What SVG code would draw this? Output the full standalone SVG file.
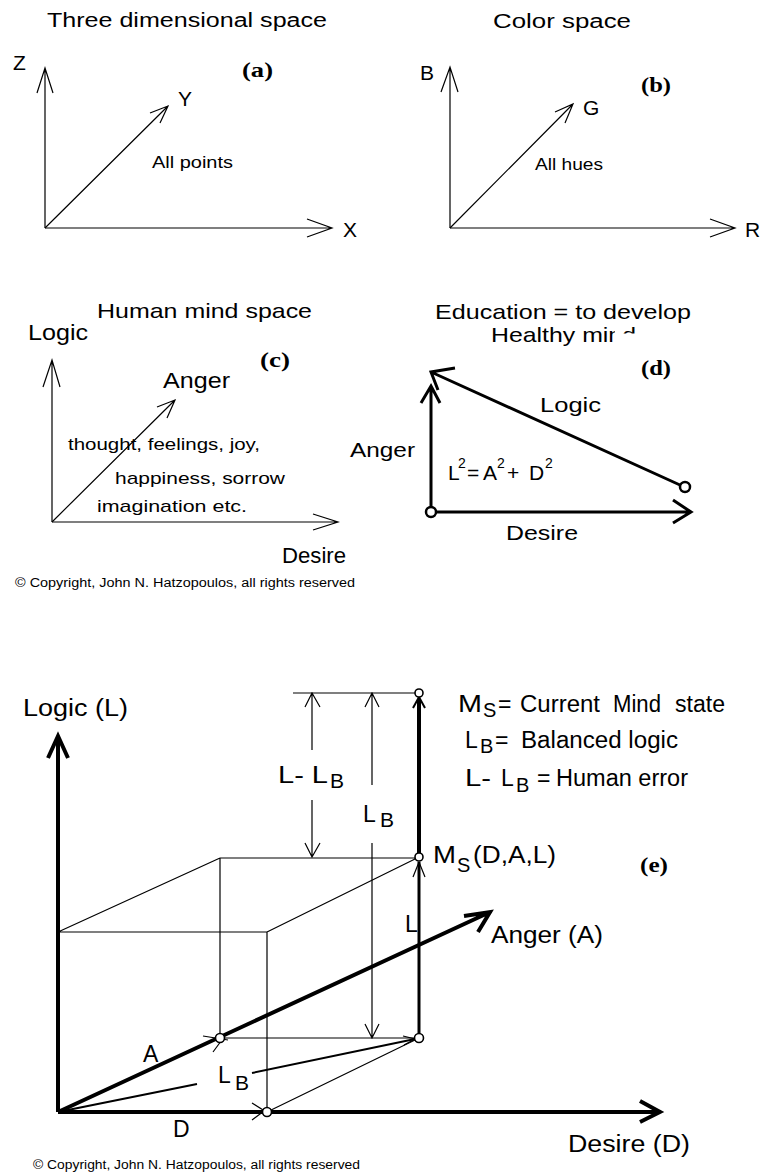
<svg xmlns="http://www.w3.org/2000/svg" width="766" height="1173" viewBox="0 0 766 1173">
<style>
.t{font-family:"Liberation Sans",Arial,sans-serif;fill:#000}
.b{font-family:"Liberation Serif","Times New Roman",serif;font-weight:bold;fill:#000;font-size:21px}
.thin{stroke:#000;stroke-width:1.2;fill:none}
.med{stroke:#000;stroke-width:2;fill:none}
.thick{stroke:#000;stroke-width:3;fill:none}
.heavy{stroke:#000;stroke-width:4;fill:none}
.dot{stroke:#000;stroke-width:1.6;fill:#fff}
</style>
<rect width="766" height="1173" fill="#fff"/>

<g id="panel-a">
  <g id="a-connectors">
    <path class="thin" d="M45,228 V68 M37,93 L45,68 L53,93"/>
    <path class="thin" d="M45,228 H332 M307,219 L332,228 L307,237"/>
    <path class="thin" d="M45,228 L168,106 M150,113 L168,106 L160,123"/>
  </g>
  <text class="t" x="47" y="27" font-size="20" textLength="280" lengthAdjust="spacingAndGlyphs">Three dimensional space</text>
  <text class="t" x="13" y="70" font-size="21">Z</text>
  <text class="b" x="242" y="77" textLength="31" lengthAdjust="spacingAndGlyphs">(a)</text>
  <text class="t" x="178" y="106" font-size="21">Y</text>
  <text class="t" x="152" y="168" font-size="16" textLength="81" lengthAdjust="spacingAndGlyphs">All points</text>
  <text class="t" x="343" y="237" font-size="21">X</text>
</g>

<g id="panel-b">
  <g id="b-connectors">
    <path class="thin" d="M450,228 V67 M441,92 L450,67 L458,92"/>
    <path class="thin" d="M450,228 H735 M710,219 L735,228 L710,237"/>
    <path class="thin" d="M450,228 L573,104 M555,112 L573,104 L565,123"/>
  </g>
  <text class="t" x="493" y="28" font-size="20" textLength="138" lengthAdjust="spacingAndGlyphs">Color space</text>
  <text class="t" x="420" y="80" font-size="21">B</text>
  <text class="b" x="641" y="92" textLength="30" lengthAdjust="spacingAndGlyphs">(b)</text>
  <text class="t" x="583" y="115" font-size="21">G</text>
  <text class="t" x="535" y="170" font-size="16" textLength="68" lengthAdjust="spacingAndGlyphs">All hues</text>
  <text class="t" x="745" y="237" font-size="21">R</text>
</g>

<g id="panel-c">
  <g id="c-connectors">
    <path class="thin" d="M52,522 V360 M43,387 L52,360 L60,387"/>
    <path class="thin" d="M52,522 H338 M313,514 L338,522 L313,530"/>
    <path class="thin" d="M52,522 L175,400 M157,407 L175,400 L167,418"/>
  </g>
  <text class="t" x="97" y="318" font-size="21" textLength="215" lengthAdjust="spacingAndGlyphs">Human mind space</text>
  <text class="t" x="28" y="340" font-size="22" textLength="60" lengthAdjust="spacingAndGlyphs">Logic</text>
  <text class="b" x="260" y="367" textLength="30" lengthAdjust="spacingAndGlyphs">(c)</text>
  <text class="t" x="163" y="388" font-size="22" textLength="67" lengthAdjust="spacingAndGlyphs">Anger</text>
  <text class="t" x="68" y="450" font-size="17" textLength="192" lengthAdjust="spacingAndGlyphs">thought, feelings, joy,</text>
  <text class="t" x="115" y="484" font-size="17" textLength="170" lengthAdjust="spacingAndGlyphs">happiness, sorrow</text>
  <text class="t" x="97" y="512" font-size="17" textLength="150" lengthAdjust="spacingAndGlyphs">imagination etc.</text>
  <text class="t" x="282" y="563" font-size="22" textLength="64" lengthAdjust="spacingAndGlyphs">Desire</text>
  <text class="t" x="15" y="587" font-size="12.5" textLength="340" lengthAdjust="spacingAndGlyphs">© Copyright, John N. Hatzopoulos, all rights reserved</text>
</g>

<g id="panel-d">
  <g id="d-connectors">
    <path class="thick" d="M431,507 V386 M421,403 L431,386 L440,403"/>
    <path class="thick" d="M436,512 H691 M673,500 L691,512 L673,523"/>
    <path class="thick" d="M680,485 L431,372 M455,368 L431,372 L438,390"/>
    <circle cx="431" cy="512" r="5" stroke="#000" stroke-width="2.5" fill="#fff"/>
    <circle cx="685" cy="487" r="5" stroke="#000" stroke-width="2.5" fill="#fff"/>
  </g>
  <text class="t" x="435" y="319" font-size="21" textLength="256" lengthAdjust="spacingAndGlyphs">Education = to develop</text>
  <text class="t" x="491" y="342" font-size="21" textLength="145" lengthAdjust="spacingAndGlyphs">Healthy mind</text>
  <rect x="615" y="324" width="8" height="24" fill="#fff"/>
  <rect x="622" y="333.5" width="18" height="14" fill="#fff"/>
  <text class="b" x="641" y="375" textLength="30" lengthAdjust="spacingAndGlyphs">(d)</text>
  <text class="t" x="540" y="412" font-size="21" textLength="61" lengthAdjust="spacingAndGlyphs">Logic</text>
  <text class="t" x="350" y="457" font-size="21" textLength="65" lengthAdjust="spacingAndGlyphs">Anger</text>
  <text class="t" font-size="21"><tspan x="448" y="480">L</tspan><tspan x="458" y="468" font-size="14">2</tspan><tspan x="467" y="480">=</tspan><tspan x="483" y="480">A</tspan><tspan x="497" y="468" font-size="14">2</tspan><tspan x="507" y="480">+</tspan><tspan x="529" y="480">D</tspan><tspan x="545" y="468" font-size="14">2</tspan></text>
  <text class="t" x="506" y="540" font-size="21" textLength="72" lengthAdjust="spacingAndGlyphs">Desire</text>
</g>

<g id="panel-e">
  <g id="e-connectors">
    <path class="thin" d="M293,693 H415"/>
    <path class="thin" d="M220,858 H415 M220,858 V1034 M58,932 H267 M267,932 V1108 M58,932 L220,858 M267,932 L415,859 M267,1112 L415,1040 M224,1038 H415"/>
    <path class="thin" d="M312,693 V750 M312,800 V857 M305,707 L312,693 L320,707 M305,843 L312,857 L320,843"/>
    <path class="thin" d="M372,693 V785 M372,843 V1038 M365,707 L372,693 L379,707 M365,1024 L372,1038 L379,1024"/>
    <path class="heavy" d="M58,1112 V740 M48,758 L58,736 L68,758"/>
    <path class="heavy" d="M58,1112 H658 M640,1101 L660,1112 L640,1122"/>
    <path class="heavy" d="M58,1112 L488,913 M464,916 L490,912 L478,932"/>
    <path class="heavy" d="M419,699 V853"/>
    <path class="thick" d="M419,862 V1034"/>
    <path class="med" d="M413,708 L419,697 L425,708"/>
    <path class="thin" d="M413,877 L419,862 L425,877"/>
    <path class="med" d="M58,1112 L197,1084 M252,1073 L415,1039"/>
    <path class="thin" d="M403,1036 L415,1039 L404,1045"/>
    <path class="thin" d="M203,1036 L228,1040 M213,1052 L227,1033"/>
    <path class="thin" d="M252,1103 L271,1115 M252,1120 L268,1108"/>
    <circle class="dot" cx="419" cy="693" r="4"/>
    <circle class="dot" cx="419" cy="857" r="4"/>
    <circle class="dot" cx="419" cy="1038" r="4.5"/>
    <circle class="dot" cx="220" cy="1038" r="4.5"/>
    <circle class="dot" cx="267" cy="1112" r="4.5"/>
  </g>
  <text class="t" x="23" y="716" font-size="23" textLength="105" lengthAdjust="spacingAndGlyphs">Logic (L)</text>
  <text class="t" x="278" y="783" font-size="23" textLength="50" lengthAdjust="spacingAndGlyphs">L- L</text>
  <text class="t" x="330" y="788" font-size="21">B</text>
  <text class="t" x="363" y="822" font-size="23">L</text>
  <text class="t" x="380" y="827" font-size="21">B</text>
  <text class="t" x="458" y="712" font-size="23" textLength="24" lengthAdjust="spacingAndGlyphs">M</text>
  <text class="t" x="483" y="717" font-size="20">S</text>
  <text class="t" x="498" y="712" font-size="23">=</text>
  <text class="t" x="520" y="712" font-size="23" textLength="80" lengthAdjust="spacingAndGlyphs">Current</text>
  <text class="t" x="613" y="712" font-size="23" textLength="48" lengthAdjust="spacingAndGlyphs">Mind</text>
  <text class="t" x="675" y="712" font-size="23" textLength="50" lengthAdjust="spacingAndGlyphs">state</text>
  <text class="t" x="465" y="748" font-size="23">L</text>
  <text class="t" x="480" y="753" font-size="20">B</text>
  <text class="t" x="495" y="748" font-size="23">=</text>
  <text class="t" x="521" y="748" font-size="23" textLength="157" lengthAdjust="spacingAndGlyphs">Balanced logic</text>
  <text class="t" x="465" y="786" font-size="23" textLength="26" lengthAdjust="spacingAndGlyphs">L-</text>
  <text class="t" x="501" y="786" font-size="23">L</text>
  <text class="t" x="516" y="792" font-size="20">B</text>
  <text class="t" x="537" y="786" font-size="23">=</text>
  <text class="t" x="556" y="786" font-size="23" textLength="132" lengthAdjust="spacingAndGlyphs">Human error</text>
  <text class="t" x="433" y="863" font-size="23" textLength="23" lengthAdjust="spacingAndGlyphs">M</text>
  <text class="t" x="457" y="872" font-size="20">S</text>
  <text class="t" x="473" y="863" font-size="23" textLength="83" lengthAdjust="spacingAndGlyphs">(D,A,L)</text>
  <text class="b" x="640" y="872" textLength="28" lengthAdjust="spacingAndGlyphs">(e)</text>
  <text class="t" x="405" y="932" font-size="23">L</text>
  <text class="t" x="491" y="943" font-size="23" textLength="112" lengthAdjust="spacingAndGlyphs">Anger (A)</text>
  <text class="t" x="143" y="1062" font-size="23">A</text>
  <text class="t" x="218" y="1083" font-size="23">L</text>
  <text class="t" x="235" y="1090" font-size="21">B</text>
  <text class="t" x="173" y="1137" font-size="23">D</text>
  <text class="t" x="568" y="1152" font-size="23" textLength="122" lengthAdjust="spacingAndGlyphs">Desire (D)</text>
  <text class="t" x="33" y="1169" font-size="12.5" textLength="327" lengthAdjust="spacingAndGlyphs">© Copyright, John N. Hatzopoulos, all rights reserved</text>
</g>
</svg>
